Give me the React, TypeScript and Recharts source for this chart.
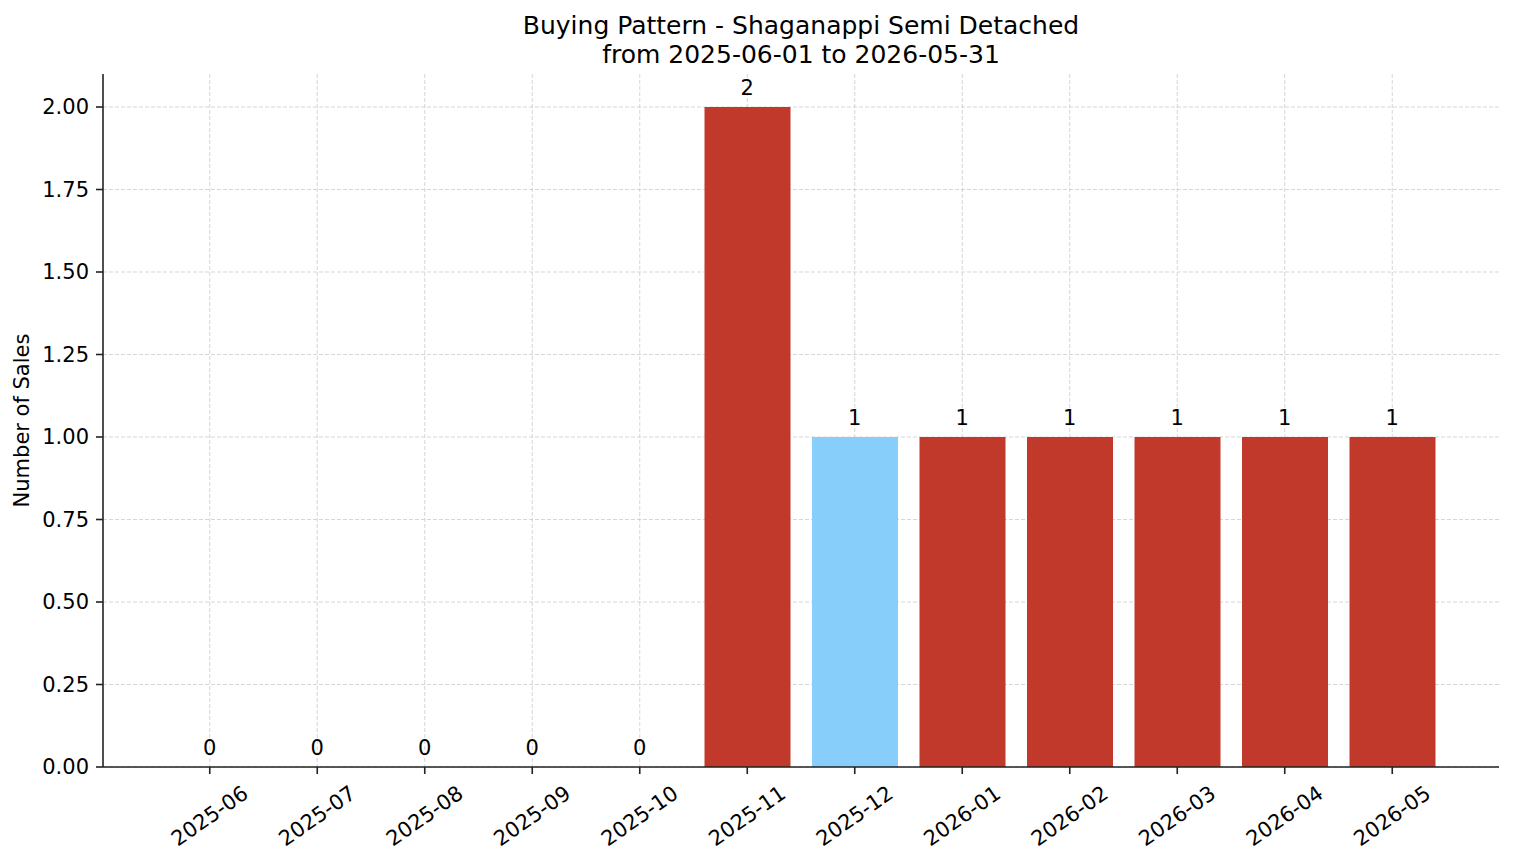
import { ComposedChart, Bar, Line, XAxis, YAxis, CartesianGrid, LabelList, Cell, Label } from "recharts"

const MONTHS = [
  "2025-06", "2025-07", "2025-08", "2025-09", "2025-10", "2025-11",
  "2025-12", "2026-01", "2026-02", "2026-03", "2026-04", "2026-05",
]
const SALES = [0, 0, 0, 0, 0, 2, 1, 1, 1, 1, 1, 1]
const Y_TICKS = [0, 0.25, 0.5, 0.75, 1, 1.25, 1.5, 1.75, 2]
const Y_MAX = 2.1
const HIGHLIGHT_MONTH = "2025-12"

const TITLE = "Buying Pattern - Shaganappi Semi Detached"
const SUBTITLE = "from 2025-06-01 to 2026-05-31"

const RED = "#c0392b"
const BLUE = "#87cefa"
const FONT = "DejaVu Sans, sans-serif"
const X_PAD = 53

const data = MONTHS.map((m, i) => ({ month: m, sales: SALES[i] }))

// rotated month label, centred under the tick like matplotlib's ha="center"
function MonthTick({ x, y, payload }: { x?: number; y?: number; payload?: { value: string } }) {
  return (
    <g transform={`translate(${x},${(y ?? 0) + 42}) rotate(-35)`}>
      <text
        textAnchor="middle"
        dominantBaseline="central"
        fontSize={21}
        fontFamily={FONT}
        fill="#000"
      >
        {payload?.value}
      </text>
    </g>
  )
}

export default function App() {
  return (
    <div style={{ position: "absolute", left: 0, top: 0, width: 1514, height: 863, background: "#fff" }}>
      <div
        style={{
          position: "absolute",
          left: 301,
          top: 11,
          width: 1000,
          textAlign: "center",
          fontFamily: FONT,
          fontSize: 25,
          lineHeight: "29px",
          color: "#000",
        }}
      >
        <div>{TITLE}</div>
        <div>{SUBTITLE}</div>
      </div>
      <ComposedChart
        width={1514}
        height={863}
        data={data}
        margin={{ top: 74, right: 15, left: 0, bottom: 0 }}
        barSize={86}
      >
        <XAxis
          dataKey="month"
          height={96}
          padding={{ left: X_PAD, right: X_PAD }}
          tick={<MonthTick />}
          tickSize={7}
          tickMargin={0}
          axisLine={{ stroke: "#222", strokeWidth: 1.6 }}
          tickLine={{ stroke: "#222", strokeWidth: 1.6 }}
          interval={0}
        />
        <YAxis
          width={103}
          domain={[0, Y_MAX]}
          ticks={Y_TICKS}
          tickFormatter={(v: number) => v.toFixed(2)}
          tick={{ fill: "#000", fontSize: 21, fontFamily: FONT }}
          tickSize={7}
          tickMargin={7}
          axisLine={{ stroke: "#222", strokeWidth: 1.6 }}
          tickLine={{ stroke: "#222", strokeWidth: 1.6 }}
          allowDataOverflow
        >
          <Label
            content={(props: any) => {
              const vb = props.viewBox || {}
              const cy = (vb.y ?? 0) + (vb.height ?? 0) / 2
              return (
                <text
                  x={22}
                  y={cy}
                  transform={`rotate(-90, 22, ${cy})`}
                  textAnchor="middle"
                  dominantBaseline="central"
                  fontSize={21}
                  fontFamily={FONT}
                  fill="#000"
                >
                  Number of Sales
                </text>
              )
            }}
          />
        </YAxis>
        <Bar dataKey="sales" isAnimationActive={false}>
          {data.map((d) => (
            <Cell key={d.month} fill={d.month === HIGHLIGHT_MONTH ? BLUE : RED} />
          ))}
        </Bar>
        {/* invisible line just to carry the value labels, zeros included */}
        <Line
          dataKey="sales"
          stroke="none"
          dot={false}
          activeDot={false}
          isAnimationActive={false}
        >
          <LabelList
            dataKey="sales"
            position="top"
            offset={12}
            fill="#000"
            fontSize={21}
            fontFamily={FONT}
          />
        </Line>
        {/* grid sits on top of the bars, as in the original */}
        <CartesianGrid
          stroke="#cccccc"
          strokeOpacity={0.8}
          strokeDasharray="4 2"
          horizontalCoordinatesGenerator={({ offset }: any) =>
            Y_TICKS.map((t) => offset.top + offset.height * (1 - t / Y_MAX))
          }
          verticalCoordinatesGenerator={({ offset }: any) => {
            const band = (offset.width - 2 * X_PAD) / MONTHS.length
            return MONTHS.map((_, i) => offset.left + X_PAD + (i + 0.5) * band)
          }}
        />
      </ComposedChart>
    </div>
  )
}
